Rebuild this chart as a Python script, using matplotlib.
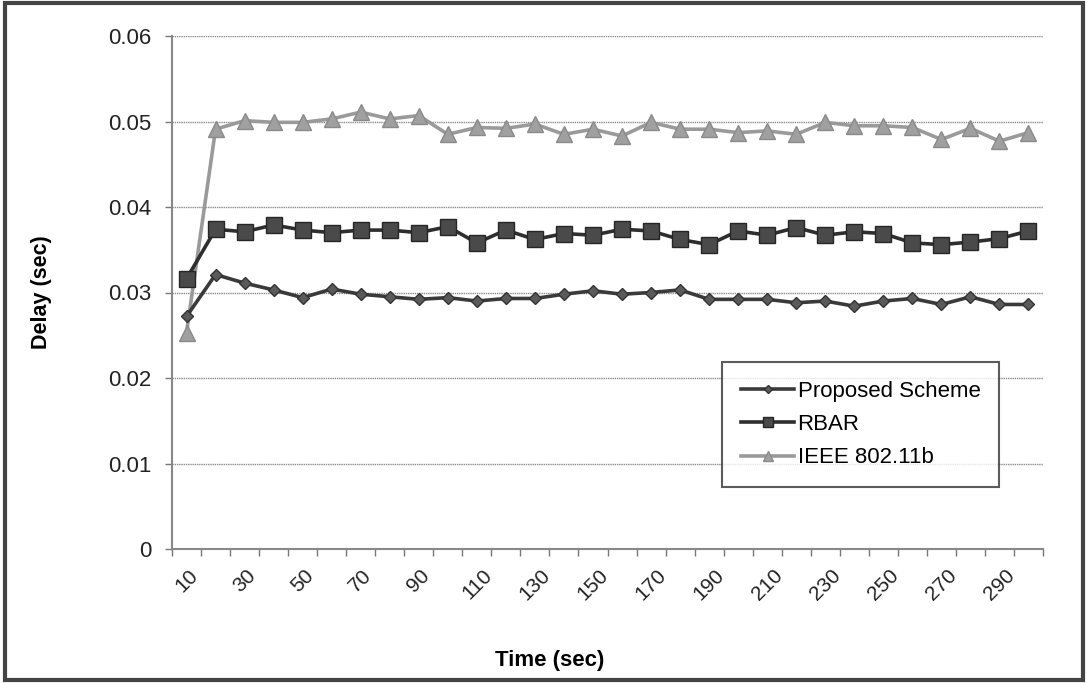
import matplotlib
matplotlib.use("Agg")
import matplotlib.pyplot as plt
from matplotlib.patches import Rectangle
from matplotlib.ticker import FixedLocator, FixedFormatter, MultipleLocator

plt.rcParams['font.family'] = ['Liberation Sans', 'DejaVu Sans']

time_sec = list(range(10, 301, 10))
proposed = [0.0272, 0.0321, 0.0311, 0.0303, 0.0294, 0.0304, 0.0298, 0.0295, 0.0292, 0.0294,
            0.0290, 0.0293, 0.0293, 0.0298, 0.0302, 0.0298, 0.0300, 0.0303, 0.0292, 0.0292,
            0.0292, 0.0288, 0.0290, 0.0284, 0.0290, 0.0293, 0.0286, 0.0295, 0.0286, 0.0286]
rbar = [0.0316, 0.0374, 0.0371, 0.0379, 0.0373, 0.0370, 0.0373, 0.0373, 0.0370, 0.0377,
        0.0358, 0.0373, 0.0362, 0.0369, 0.0367, 0.0374, 0.0372, 0.0362, 0.0356, 0.0372,
        0.0367, 0.0376, 0.0367, 0.0371, 0.0369, 0.0358, 0.0356, 0.0359, 0.0363, 0.0372]
ieee = [0.0253, 0.0491, 0.0501, 0.0499, 0.0499, 0.0503, 0.0511, 0.0503, 0.0507, 0.0485,
        0.0493, 0.0492, 0.0497, 0.0485, 0.0491, 0.0483, 0.0499, 0.0491, 0.0491, 0.0487,
        0.0489, 0.0485, 0.0499, 0.0495, 0.0495, 0.0493, 0.0479, 0.0492, 0.0477, 0.0487]
series_names = ["Proposed Scheme", "RBAR", "IEEE 802.11b"]
x_label = "Time (sec)"
y_label = "Delay (sec)"

W, H = 1087, 683
fig = plt.figure(figsize=(W / 100, H / 100), dpi=100)
fig.patch.set_facecolor('white')
fig.add_artist(Rectangle((5 / W, 3 / H), (W - 9) / W, (H - 6) / H, transform=fig.transFigure,
                         fill=False, edgecolor='#444444', linewidth=3))

left, right, top, bottom = 172, 1043, 36, 549
ax = fig.add_axes([left / W, 1 - bottom / H, (right - left) / W, (bottom - top) / H])

idx = list(range(len(time_sec)))
ax.plot(idx, ieee, color='#9a9a9a', linewidth=2.6, marker='^', markersize=11,
        markerfacecolor='#a0a0a0', markeredgecolor='#8a8a8a', label=series_names[2], zorder=3)
ax.plot(idx, rbar, color='#2e2e2e', linewidth=2.6, marker='s', markersize=11,
        markerfacecolor='#4a4a4a', markeredgecolor='#262626', label=series_names[1], zorder=4)
ax.plot(idx, proposed, color='#3a3a3a', linewidth=2.6, marker='D', markersize=6.5,
        markerfacecolor='#5a5a5a', markeredgecolor='#333333', label=series_names[0], zorder=5)

ax.set_xlim(-0.5, len(time_sec) - 0.5)
ax.set_ylim(0, 0.06)
ax.yaxis.set_major_locator(MultipleLocator(0.01))
ax.set_yticklabels(['0' if v == 0 else f'{v:.2f}' for v in ax.get_yticks()])
ax.grid(axis='y', color='#8c8c8c', linewidth=1.0, linestyle=(0, (1, 0.6)))
ax.set_axisbelow(True)

major_pos = idx[::2]
ax.xaxis.set_major_locator(FixedLocator(major_pos))
ax.xaxis.set_major_formatter(FixedFormatter([str(time_sec[i]) for i in major_pos]))
ax.xaxis.set_minor_locator(FixedLocator([i - 0.5 for i in range(len(time_sec) + 1)]))
ax.tick_params(axis='x', which='major', length=0, pad=12, labelsize=15, labelrotation=45,
               labelcolor='#222222')
ax.tick_params(axis='x', which='minor', length=5, width=1, color='#777777', direction='out')
for lbl in ax.get_xticklabels():
    lbl.set_ha('center')
ax.tick_params(axis='y', which='major', length=5, width=1, color='#777777', pad=10,
               labelsize=16, labelcolor='#222222')

for s in ['top', 'right']:
    ax.spines[s].set_visible(False)
for s in ['left', 'bottom']:
    ax.spines[s].set_color('#888888')
    ax.spines[s].set_linewidth(1.5)

ax.set_xlabel(x_label, fontsize=16, fontweight='bold')
ax.xaxis.set_label_coords((550 - left) / (right - left), -(650 - bottom) / (bottom - top))
ax.set_ylabel(y_label, fontsize=15.5, fontweight='bold')
ax.yaxis.set_label_coords(-(left - 52) / (right - left), 0.5)

handles, labels = ax.get_legend_handles_labels()
order = [2, 1, 0]
leg = ax.legend([handles[i] for i in order], [labels[i] for i in order],
                loc='upper left', bbox_to_anchor=((722 - left) / (right - left), (bottom - 362) / (bottom - top)),
                frameon=True, fancybox=False, edgecolor='#333333', fontsize=16,
                handlelength=2.4, handletextpad=0.15, labelspacing=0.55, borderpad=0.85,
                borderaxespad=0, markerscale=0.7)
leg.get_frame().set_linewidth(1.5)

fig.savefig('out.png', dpi=100, facecolor='white')
